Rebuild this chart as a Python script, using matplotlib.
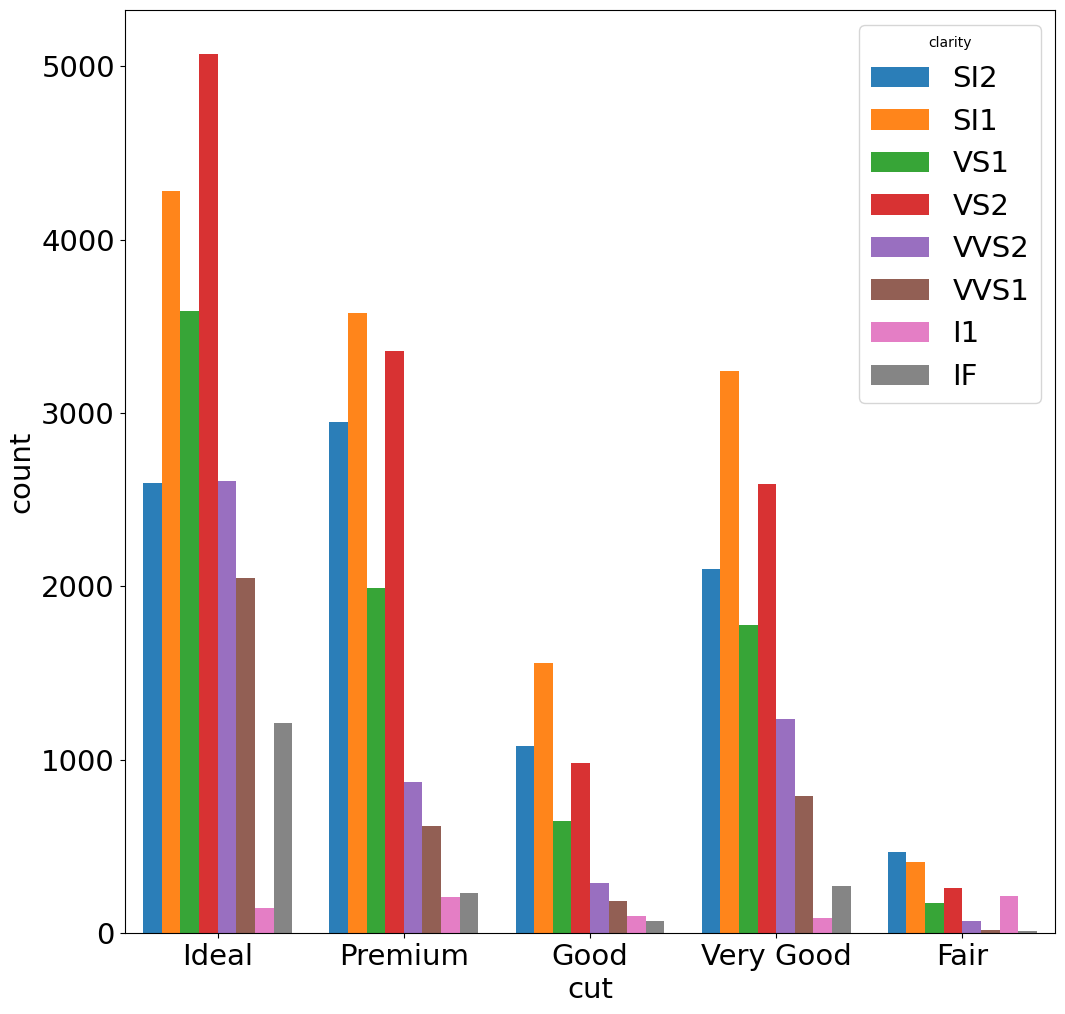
import matplotlib
matplotlib.use("Agg")
import matplotlib.pyplot as plt
import numpy as np

cuts = ["Ideal", "Premium", "Good", "Very Good", "Fair"]
clarities = ["SI2", "SI1", "VS1", "VS2", "VVS2", "VVS1", "I1", "IF"]
counts = {
    "SI2":  [2598, 2949, 1081, 2100, 466],
    "SI1":  [4282, 3575, 1560, 3240, 408],
    "VS1":  [3589, 1989, 648, 1775, 170],
    "VS2":  [5071, 3357, 978, 2591, 261],
    "VVS2": [2606, 870, 286, 1235, 69],
    "VVS1": [2047, 616, 186, 789, 17],
    "I1":   [146, 205, 96, 84, 210],
    "IF":   [1212, 230, 71, 268, 9],
}
colors = plt.get_cmap("tab10").colors

fig, ax = plt.subplots(figsize=(10.65, 10.14), dpi=100)
fig.subplots_adjust(left=0.117, right=0.991, top=0.99, bottom=0.08)

x = np.arange(len(cuts))
w = 0.8 / len(clarities)
for i, c in enumerate(clarities):
    ax.bar(x - 0.4 + w * (i + 0.5), counts[c], width=w, color=colors[i],
           label=c, edgecolor="none", alpha=0.95)

ax.set_xticks(x)
ax.set_xticklabels(cuts)
ax.set_xlim(-0.5, len(cuts) - 0.5)
ax.tick_params(labelsize=21)
ax.set_xlabel("cut", fontsize=21)
ax.set_ylabel("count", fontsize=21)
ax.legend(title="clarity", fontsize=21, loc="upper right")

fig.savefig("out.png")
